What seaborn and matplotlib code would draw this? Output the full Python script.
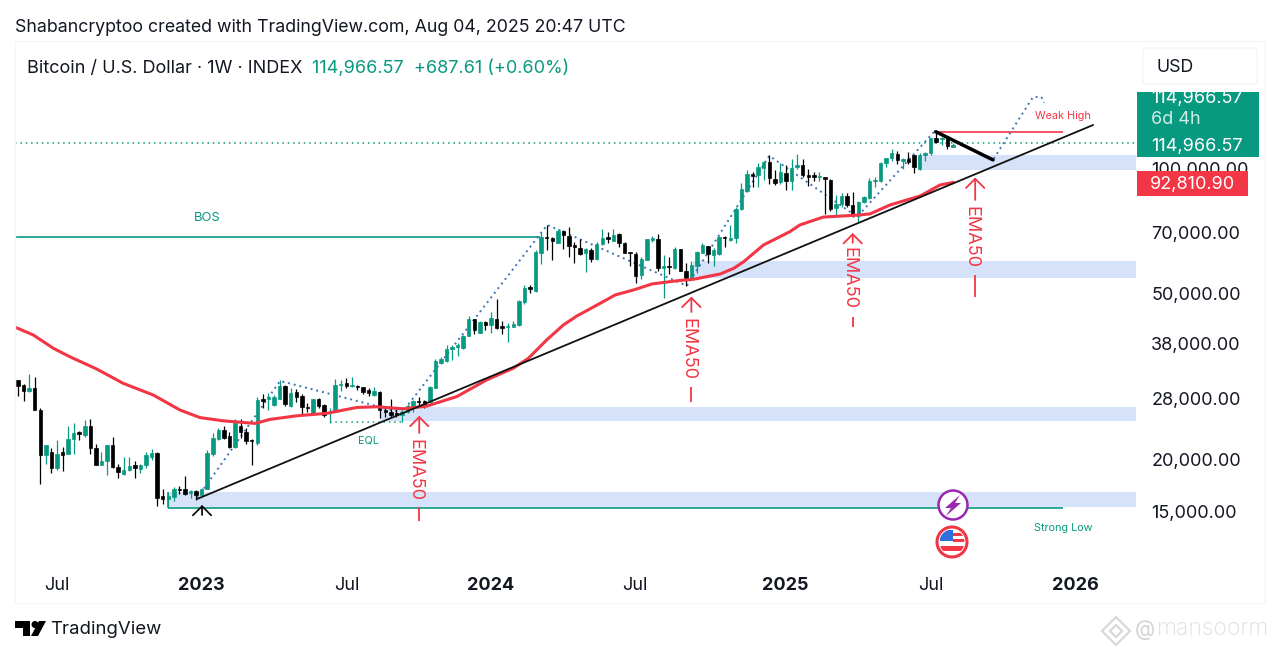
import matplotlib
matplotlib.use("Agg")
import matplotlib.pyplot as plt
from matplotlib.patches import Circle, FancyBboxPatch, Polygon, Rectangle
from matplotlib.ticker import NullLocator
import numpy as np
import seaborn as sns

sns.set_theme(style="white")
plt.rcParams["font.family"] = ["Inter", "DejaVu Sans"]

GREEN = "#089981"
RED = "#f23645"
BAND = "#d6e2f9"
DARK = "#131722"

# weekly candles, thousands of USD, first candle is about May 2022
opens = [31.07, 30.17, 29.25, 29.67, 26.33, 20.54, 20.9, 19.1, 20.9, 20.6,
         22.4, 23.3, 22.95, 24.1, 21.3, 19.45, 19.9, 21.7, 19.25, 18.5,
         18.9, 19.45, 19.0, 19.4, 20.35, 20.8, 16.35, 16.1, 16.3, 17.0,
         17.0, 16.7, 16.8, 16.5, 17.0, 20.65, 22.45, 23.6, 22.8, 21.5,
         24.1, 23.35, 22.3, 21.9, 27.95, 27.95, 27.05, 28.05, 30.05, 26.9,
         29.0, 28.45, 26.8, 25.85, 28.05, 27.05, 25.85, 26.05, 30.2, 30.5,
         30.05, 30.05, 29.85, 29.4, 28.6, 29.15, 26.33, 26.1, 25.85, 25.6,
         26.1, 26.6, 27.7, 27.7, 27.55, 29.8, 34.2, 34.55, 36.9, 37.35,
         37.0, 39.6, 43.4, 40.35, 42.8, 42.1, 43.5, 41.85, 41.7, 41.7,
         42.1, 47.85, 51.8, 50.85, 62.7, 68.45, 68.1, 66.3, 70.8, 68.75,
         65.4, 64.45, 62.7, 63.65, 60.45, 65.65, 68.2, 67.0, 69.5, 66.3,
         62.95, 62.25, 55.35, 60.2, 67.25, 67.6, 57.65, 58.25, 57.5, 63.9,
         56.75, 54.45, 58.4, 62.7, 65.05, 61.9, 62.15, 68.45, 67.25, 67.85,
         79.65, 88.25, 96.6, 96.25, 99.8, 103.6, 94.0, 92.8, 97.5, 93.25,
         100.4, 101.7, 96.25, 96.25, 95.0, 95.0, 93.65, 80.1, 81.9, 85.7,
         81.55, 76.75, 83.05, 84.6, 93.25, 93.1, 103.0, 105.6, 108.1, 104.2,
         105.0, 107.5, 99.3, 107.5, 108.5, 117.8, 117.2, 117.8, 112.2]
highs = [31.07, 30.4, 32.1, 31.55, 26.6, 21.7, 21.3, 22.3, 21.5, 24.1,
         24.45, 23.5, 24.9, 25.0, 21.8, 20.9, 21.7, 22.65, 19.6, 20.3,
         20.35, 19.9, 19.6, 20.9, 21.2, 20.9, 17.0, 16.65, 17.2, 17.3,
         18.25, 16.95, 16.9, 17.1, 21.1, 23.25, 23.8, 24.1, 23.3, 25.0,
         25.0, 23.9, 22.4, 28.25, 28.7, 28.85, 28.6, 31.05, 30.15, 29.65,
         29.5, 28.7, 27.3, 28.05, 28.2, 27.2, 26.6, 31.2, 31.05, 31.4,
         31.55, 30.2, 29.95, 29.65, 29.85, 29.3, 26.8, 27.95, 26.6, 26.33,
         27.2, 27.85, 28.35, 27.85, 30.05, 34.8, 35.35, 37.7, 37.7, 38.05,
         39.8, 44.3, 43.4, 43.1, 43.1, 45.3, 48.65, 43.1, 42.5, 43.1,
         48.3, 52.45, 52.45, 63.65, 69.75, 73.05, 68.2, 71.3, 71.05, 72.4,
         66.6, 67.5, 64.25, 64.25, 66.6, 71.3, 70.15, 71.3, 69.75, 66.6,
         63.05, 63.05, 61.1, 67.5, 68.75, 69.4, 61.9, 61.3, 64.6, 63.9,
         59.3, 60.0, 63.4, 66.05, 65.15, 64.25, 68.85, 68.85, 73.05, 80.8,
         91.95, 98.95, 97.7, 102.7, 104.2, 107.5, 98.95, 102.7, 101.7, 105.1,
         108.1, 105.1, 99.3, 98.0, 98.0, 95.35, 94.0, 86.2, 87.0, 87.3,
         87.75, 83.5, 85.7, 94.5, 95.0, 103.6, 105.6, 110.9, 109.9, 105.6,
         109.5, 107.5, 108.5, 109.5, 118.2, 122.2, 118.9, 118.9, 114.7]
lows = [28.44, 27.7, 29.15, 26.33, 17.5, 19.6, 18.6, 18.9, 18.8, 20.6,
        20.6, 22.3, 22.65, 20.65, 19.4, 19.4, 18.4, 19.1, 18.05, 18.4,
        18.85, 18.05, 18.6, 19.1, 19.98, 15.5, 15.65, 15.4, 15.9, 16.55,
        16.5, 16.2, 16.05, 16.35, 17.0, 20.4, 22.3, 22.4, 21.3, 21.3,
        22.5, 21.85, 19.45, 21.7, 26.6, 26.4, 26.95, 28.0, 26.9, 26.8,
        27.55, 25.6, 26.1, 25.6, 26.6, 25.3, 24.45, 26.05, 29.3, 29.65,
        29.85, 29.4, 28.75, 28.45, 28.45, 25.15, 25.4, 25.3, 25.3, 24.7,
        25.95, 26.1, 26.9, 26.6, 27.4, 29.65, 33.95, 34.35, 34.7, 35.45,
        36.8, 39.6, 39.95, 40.35, 40.9, 40.35, 41.15, 40.05, 38.4, 41.55,
        41.85, 47.25, 50.1, 50.55, 58.9, 63.65, 60.2, 66.05, 63.9, 61.1,
        59.3, 61.9, 56.25, 59.55, 60.2, 65.4, 66.3, 67.0, 64.6, 62.5,
        58.25, 52.95, 54.15, 60.2, 66.6, 56.75, 48.75, 55.75, 57.3, 56.55,
        52.2, 54.25, 55.95, 62.5, 59.3, 58.4, 61.9, 64.8, 67.0, 66.3,
        79.35, 87.75, 90.2, 90.2, 93.65, 91.55, 91.1, 91.55, 88.6, 88.6,
        99.3, 95.0, 90.7, 93.25, 93.25, 77.65, 79.05, 76.75, 80.55, 80.8,
        76.2, 73.95, 82.6, 84.2, 90.2, 92.8, 100.8, 104.2, 102.3, 99.3,
        102.3, 97.5, 98.95, 104.2, 107.5, 114.7, 113.6, 110.9, 112.2]
closes = [30.05, 29.3, 29.67, 26.33, 20.54, 21.7, 19.15, 20.7, 20.55, 22.4,
          23.15, 23.0, 24.1, 21.3, 19.45, 19.9, 21.7, 19.25, 18.7, 18.9,
          19.35, 19.1, 19.45, 20.55, 20.8, 16.2, 16.15, 16.35, 17.05, 16.9,
          16.55, 16.8, 16.5, 17.05, 20.75, 22.5, 23.6, 22.6, 21.5, 24.45,
          23.3, 22.2, 22.2, 27.85, 27.7, 28.25, 28.35, 30.05, 27.2, 28.95,
          28.35, 26.7, 26.65, 27.95, 26.9, 25.6, 26.05, 30.2, 30.4, 30.05,
          30.15, 29.85, 29.15, 28.85, 29.3, 26.33, 26.1, 25.6, 25.6, 26.1,
          26.9, 27.7, 27.55, 27.05, 29.85, 34.55, 34.95, 36.8, 37.2, 37.7,
          39.6, 43.4, 40.9, 42.8, 42.0, 43.65, 41.3, 41.3, 41.95, 42.25,
          48.05, 51.55, 51.25, 62.95, 68.45, 67.85, 67.0, 70.8, 69.1, 65.05,
          64.6, 62.25, 63.9, 60.45, 65.8, 67.85, 67.5, 69.1, 66.05, 62.7,
          62.7, 55.15, 60.55, 67.5, 67.85, 57.5, 58.25, 58.05, 63.9, 56.75,
          54.45, 58.6, 63.05, 65.4, 62.25, 63.65, 68.45, 67.85, 68.1, 79.65,
          88.95, 96.8, 95.7, 100.4, 103.6, 94.5, 92.2, 97.7, 93.25, 99.8,
          101.7, 96.25, 95.0, 95.0, 95.7, 94.0, 79.65, 81.9, 85.7, 81.55,
          77.2, 83.05, 85.1, 93.25, 93.65, 103.0, 105.6, 108.5, 104.6, 105.0,
          103.6, 100.4, 107.5, 108.9, 117.8, 115.7, 117.8, 113.0, 113.6]

# EMA50, read as (week, price)
ema_weeks = [-0.4, 2.75, 6.35, 9.35, 14.15, 18.9, 24.3, 29.1, 32.7, 36.9, 42.6,
             45.3, 50.1, 55.5, 60.9, 64.5, 69.25, 73.45, 78.85, 84.2, 89, 91.7,
             95, 98, 100.4, 104.6, 107.3, 110.6, 113.9, 118.4, 121.4, 126.2,
             128.6, 130.4, 133.95, 138.7, 140.5, 144.7, 150.7, 153.1, 156.7,
             162.1, 165.7, 168.1]
ema_prices = [41.5, 39.82, 37.0, 35.3, 33.0, 30.5, 28.6, 26.33, 25.25, 24.8, 24.45,
              25.0, 25.5, 25.85, 26.7, 26.8, 26.5, 26.9, 28.35, 31.07, 33.15, 35.0,
              38.74, 42.08, 44.2, 47.4, 49.65, 51.04, 52.75, 53.7, 54.15, 55.75,
              57.5, 59.65, 65.4, 70.4, 73.05, 76.3, 77.1, 77.65, 81.57,
              85.7, 91.08, 92.4]

zigzag_weeks = [32.2, 47.1, 69.0, 95.1, 120.2, 135, 150.8, 164.8, 175.2, 182.4, 183.9, 184.4]
zigzag_prices = [16.2, 30.9, 25.95, 73.05, 52.2, 107.0, 76.4, 122.9, 104.6, 148.0, 148.0, 143.2]

trend_weeks = [32.2, 193.2]
trend_prices = [16.12, 126.8]
pullback_weeks = [164.9, 175.2]
pullback_prices = [122.2, 104.6]

# demand zones: left week, low, high
zone_starts = [27, 65, 121.3, 162]
zone_lows = [15.42, 24.78, 54.5, 98.9]
zone_highs = [16.75, 26.78, 59.9, 107.5]

last_price = 114966.57
ema_last = "92,810.90"
bos_price = 68.4
bos_end = 93.8
weak_high = 121.8
strong_low = 15.33
levels_end = 187.8
eql_price = 24.6
eql_weeks = [56.1, 69.2]

# EMA50 callouts: week, arrow tip, arrow tail, text centre, dash top, dash bottom
ema_call_weeks = [72.1, 121, 150, 172]
ema_call_tips = [25.5, 49.2, 69.9, 94.9]
ema_call_tails = [23.2, 45.2, 66.2, 83.85]
ema_call_text = [18.91, 36.85, 54.5, 68.2]
ema_call_dash_top = [15.4, 29.9, 43.9, 55.44]
ema_call_dash_bot = [14.27, 27.5, 41.5, 49.1]

x_tick_weeks = [7, 32.9, 59.1, 85, 110.9, 137.9, 164, 190]
x_tick_labels = ["Jul", "2023", "Jul", "2024", "Jul", "2025", "Jul", "2026"]
y_ticks = [15000, 20000, 28000, 38000, 50000, 70000, 100000]
y_tick_labels = ["15,000.00", "20,000.00", "28,000.00", "38,000.00",
                 "50,000.00", "70,000.00", "100,000.00"]

K = 1000.0
o, h, l, c = [np.array(v) * K for v in (opens, highs, lows, closes)]
weeks = np.arange(len(o))
up = c >= o

fig = plt.figure(figsize=(12.8, 6.56), dpi=100, facecolor="white")
ax = fig.add_axes([15 / 1280, 1 - 567 / 656, 1121 / 1280, 526 / 656])
ax.set_yscale("log")
ax.set_xlim(-0.54, 200.9)
ax.set_ylim(11075, 201500)
sns.despine(ax=ax, left=True, bottom=True, right=True, top=True)

for s, lo, hi in zip(zone_starts, zone_lows, zone_highs):
    ax.fill_between([s, 200.9], lo * K, hi * K, color=BAND, lw=0, zorder=1)

ax.axhline(last_price, color=GREEN, ls=(0, (1, 2.5)), lw=1.1, zorder=2)
ax.hlines(bos_price * K, -0.54, bos_end, color=GREEN, lw=1.2, zorder=2)
ax.hlines(strong_low * K, zone_starts[0], levels_end, color=GREEN, lw=1.2, zorder=2)
ax.vlines(zone_starts[0], strong_low * K, zone_highs[0] * K, color=GREEN, lw=1.2, zorder=2)
ax.hlines(weak_high * K, pullback_weeks[0], levels_end, color=RED, lw=1.2, zorder=2)
ax.plot(eql_weeks, [eql_price * K] * 2, color=GREEN, ls=(0, (1, 2.5)), lw=1.1, zorder=2)
ax.plot(np.array(zigzag_weeks), np.array(zigzag_prices) * K, color="#3f74b5",
        ls=(0, (1, 2)), lw=1.4, zorder=2)

# candles
ax.vlines(weeks[up], l[up], h[up], color=GREEN, lw=0.9, zorder=3)
ax.vlines(weeks[~up], l[~up], h[~up], color="black", lw=0.9, zorder=3)
ax.bar(weeks[up], (c - o)[up], bottom=o[up], width=0.62, color=GREEN,
       edgecolor=GREEN, lw=0.5, zorder=3)
ax.bar(weeks[~up], (o - c)[~up], bottom=c[~up], width=0.62, color="black",
       edgecolor="black", lw=0.5, zorder=3)

sns.lineplot(x=ema_weeks, y=np.array(ema_prices) * K, ax=ax, color=RED, lw=2.2,
             estimator=None, sort=False, zorder=4)
ax.plot(trend_weeks, np.array(trend_prices) * K, color="#111111", lw=1.3, zorder=5)
ax.plot(pullback_weeks, np.array(pullback_prices) * K, color="black", lw=2.5, zorder=5)

for w, tip, tail, txt, d0, d1 in zip(ema_call_weeks, ema_call_tips, ema_call_tails,
                                     ema_call_text, ema_call_dash_top, ema_call_dash_bot):
    ax.annotate("", xy=(w, tip * K), xytext=(w, tail * K), zorder=6,
                arrowprops=dict(arrowstyle="->,head_length=0.55,head_width=0.55", color=RED,
                                lw=1.3, shrinkA=0, shrinkB=0, mutation_scale=12))
    ax.text(w - 0.7, txt * K, "EMA50", rotation=-90, color=RED, fontsize=13,
            ha="center", va="center", zorder=6)
    ax.vlines(w, d1 * K, d0 * K, color=RED, lw=1.3, zorder=6)

ax.annotate("", xy=(33.07, 15590), xytext=(33.07, 14750),
            arrowprops=dict(arrowstyle="->,head_length=0.55,head_width=0.55", color="black",
                            lw=1.2, shrinkA=0, shrinkB=0, mutation_scale=12))

ax.yaxis.tick_right()
ax.set_yticks(y_ticks)
ax.set_yticklabels(y_tick_labels)
ax.yaxis.set_minor_locator(NullLocator())
ax.tick_params(axis="y", length=0, pad=11, labelsize=13, labelcolor=DARK)
ax.set_xticks(x_tick_weeks)
ax.set_xticklabels(x_tick_labels)
ax.tick_params(axis="x", length=0, pad=7, labelsize=13, labelcolor=DARK)
for t in ax.get_xticklabels():
    if t.get_text() != "Jul":
        t.set_fontweight("bold")
ax.grid(False)

# overlay in picture pixels, for the tradingview frame around the chart
ov = fig.add_axes([0, 0, 1, 1], facecolor="none")
ov.set_xlim(0, 1280)
ov.set_ylim(656, 0)
ov.axis("off")

ov.add_patch(Rectangle((15, 41), 1250, 562, fc="none", ec="#f3f5fa", lw=1))
ov.text(15, 28, "Shabancryptoo created with TradingView.com, Aug 04, 2025 20:47 UTC",
        fontsize=12.8, color=DARK, va="center")
ov.text(27, 68.5, "Bitcoin / U.S. Dollar · 1W · INDEX", fontsize=13, color=DARK, va="center")
ov.text(312, 68.5, "114,966.57  +687.61 (+0.60%)", fontsize=13, color=GREEN, va="center")

ov.add_patch(FancyBboxPatch((1143, 48), 114, 36, boxstyle="round,pad=0,rounding_size=5",
                            fc="white", ec="#f3f5fa", lw=1))
ov.text(1156, 67.5, "USD", fontsize=12.8, color=DARK, va="center")

ov.add_patch(Rectangle((1137, 92), 122, 65, fc=GREEN, ec="none"))
ov.text(1151, 99, "114,966.57", fontsize=13, color="white", va="center")
ov.text(1151, 120, "6d 4h", fontsize=13, color="#cfeee6", va="center")
ov.text(1151, 146, "114,966.57", fontsize=13, color="white", va="center")
ov.add_patch(Rectangle((1137, 171), 111, 25, fc=RED, ec="none", zorder=5))
ov.text(1150, 184.5, ema_last, fontsize=13, color="white", va="center", zorder=6)

ov.text(207, 218, "BOS", fontsize=9.4, color=GREEN, ha="center", va="center")
ov.text(368, 441, "EQL", fontsize=7.8, color=GREEN, ha="center", va="center")
ov.text(1063, 116, "Weak High", fontsize=7.8, color=RED, ha="center", va="center")
ov.text(1063, 528, "Strong Low", fontsize=7.8, color=GREEN, ha="center", va="center")

# event icons
ov.add_patch(Circle((953, 505), 14.5, fc="white", ec="#9c27b0", lw=1.8))
ov.add_patch(Polygon([(960, 495), (945, 508), (951, 508), (946, 516), (961, 503), (955, 503)],
                     fc="#9c27b0", ec="none"))
ov.add_patch(Circle((952, 542), 15, fc="white", ec=RED, lw=2.2))
clip = Circle((952, 542), 12.5, transform=ov.transData)
for r in [Rectangle((940, 530), 13, 11, fc="#2f6fdc", ec="none"),
          Rectangle((953, 533), 13, 3, fc=RED, ec="none"),
          Rectangle((953, 539), 13, 3, fc=RED, ec="none"),
          Rectangle((938, 546), 28, 5, fc=RED, ec="none")]:
    ov.add_patch(r)
    r.set_clip_path(clip)

# tradingview logo
ov.add_patch(Polygon([(15, 621), (30, 621), (30, 636), (22.5, 636), (22.5, 628), (15, 628)],
                     fc="black", ec="none"))
ov.add_patch(Circle((35, 624.5), 3.5, fc="black", ec="none"))
ov.add_patch(Polygon([(39, 621), (46, 621), (38, 636), (31, 636)], fc="black", ec="none"))
ov.text(50, 629, "TradingView", fontsize=13.4, color=DARK, va="center")

# watermark
for cx, cy, s in [(1116, 631, 14), (1116, 631, 6)]:
    ov.add_patch(Polygon([(cx, cy - s), (cx + s, cy), (cx, cy + s), (cx - s, cy)],
                         fc="none", ec="#d9d9d9", lw=1.6))
ov.text(1135, 630, "@", fontsize=15, color="#d4d4d4", va="center")
ov.text(1157, 629, "mansoorm", fontsize=16.5, color="#dddddd", va="center", fontweight="light")

fig.savefig("out.png", dpi=100, facecolor="white")
